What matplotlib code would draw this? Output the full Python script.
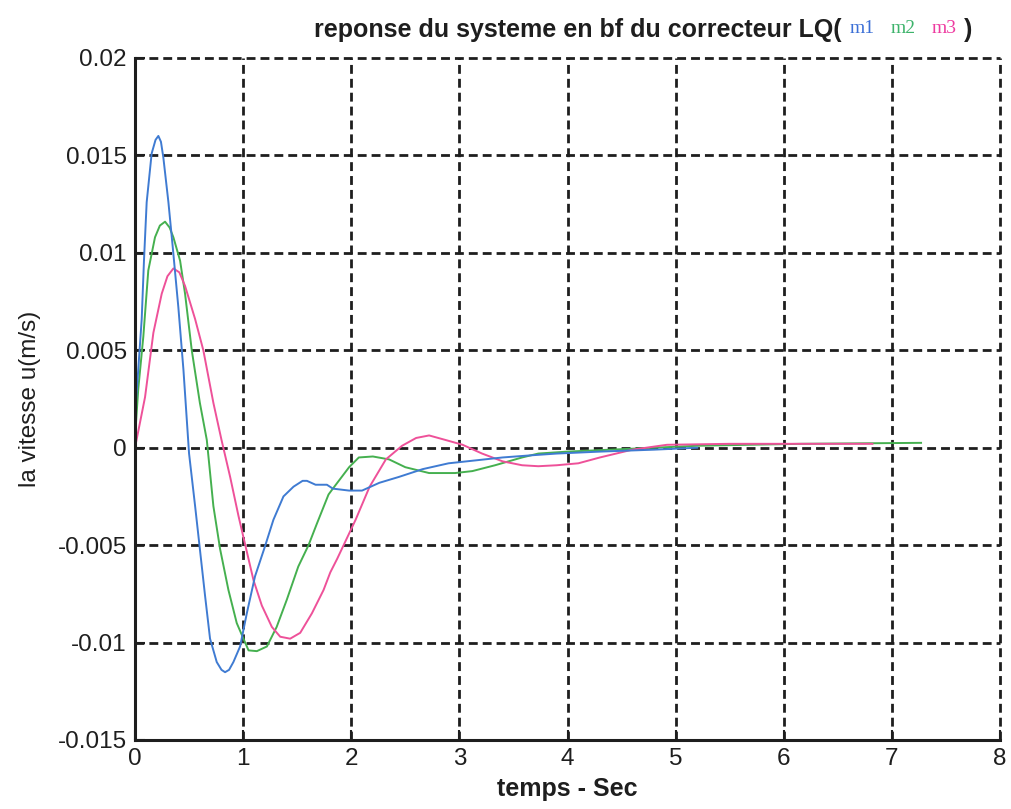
import numpy as np
import matplotlib
matplotlib.use('Agg')
import matplotlib.pyplot as plt
from matplotlib.ticker import MultipleLocator

plt.rcParams['font.family'] = ['Liberation Sans', 'DejaVu Sans']

# m1 (bleu)
t_m1 = [0, 0.03, 0.062, 0.083, 0.108, 0.154, 0.19, 0.216, 0.24, 0.262, 0.309, 0.349, 0.401, 0.448,
        0.50, 0.556, 0.60, 0.648, 0.694, 0.756, 0.80, 0.833, 0.87, 0.91, 0.972, 1.034, 1.11, 1.20,
        1.28, 1.373, 1.466, 1.55, 1.59, 1.67, 1.775, 1.83, 1.98, 2.10, 2.26, 2.44, 2.66, 2.90, 3.15,
        3.40, 3.64, 3.9, 4.3, 4.8, 5.2]
u_m1 = [0.0017, 0.0040, 0.0066, 0.0096, 0.0126, 0.0151, 0.0158, 0.0160, 0.0157, 0.0149, 0.0126,
        0.0103, 0.0072, 0.0040, -0.0003, -0.0030, -0.0052, -0.0076, -0.0098, -0.0110, -0.0114,
        -0.01152, -0.0114, -0.0110, -0.0102, -0.0085, -0.0066, -0.0051, -0.0037, -0.0025, -0.0020,
        -0.0017, -0.0017, -0.0019, -0.0019, -0.0021, -0.0022, -0.0022, -0.0018, -0.0015, -0.0011,
        -0.0008, -0.00065, -0.0005, -0.0004, -0.0003, -0.0002, -0.0001, 0.0]

# m2 (vert)
t_m2 = [0, 0.03, 0.077, 0.123, 0.185, 0.23, 0.278, 0.32, 0.355, 0.417, 0.463, 0.525, 0.60, 0.664,
        0.725, 0.787, 0.864, 0.941, 1.003, 1.05, 1.127, 1.22, 1.31, 1.404, 1.51, 1.605, 1.682, 1.79,
        1.83, 1.98, 2.07, 2.20, 2.35, 2.50, 2.72, 2.96, 3.12, 3.33, 3.58, 3.73, 4.0, 4.6, 5.2, 6.16,
        7.27]
u_m2 = [0.0005, 0.0030, 0.0057, 0.0091, 0.0108, 0.0114, 0.0116, 0.0113, 0.0108, 0.0096, 0.0079,
        0.0050, 0.0023, 0.0004, -0.0030, -0.0052, -0.0073, -0.0090, -0.0098, -0.0104, -0.01044,
        -0.0102, -0.0092, -0.0078, -0.0061, -0.0050, -0.0039, -0.0024, -0.0021, -0.0010, -0.0005,
        -0.00045, -0.0006, -0.0010, -0.0013, -0.0013, -0.0012, -0.0009, -0.0005, -0.0003, -0.0002,
        -0.00005, 0.0001, 0.0002, 0.00025]

# m3 (rose)
t_m3 = [0, 0.093, 0.17, 0.247, 0.30, 0.355, 0.41, 0.463, 0.556, 0.632, 0.725, 0.80, 0.88, 0.957,
        1.02, 1.096, 1.173, 1.266, 1.343, 1.435, 1.528, 1.636, 1.744, 1.806, 1.87, 2.04, 2.17, 2.32,
        2.47, 2.60, 2.72, 2.87, 3.03, 3.21, 3.40, 3.58, 3.73, 3.9, 4.1, 4.3, 4.6, 4.92, 5.5, 6.2, 6.82]
u_m3 = [0.0, 0.0026, 0.0059, 0.0079, 0.0088, 0.0092, 0.0090, 0.0083, 0.0066, 0.0050, 0.0023, 0.0004,
        -0.0015, -0.0035, -0.0050, -0.0068, -0.0081, -0.0092, -0.0097, -0.0098, -0.0095, -0.0085,
        -0.0073, -0.0064, -0.0057, -0.0037, -0.0020, -0.0006, 0.0001, 0.0005, 0.00063, 0.0004,
        0.00015, -0.0003, -0.0007, -0.0009, -0.00095, -0.0009, -0.0008, -0.0005, -0.0001, 0.00015,
        0.0002, 0.0002, 0.0002]

x_ticks = [0, 1, 2, 3, 4, 5, 6, 7, 8]
y_ticks = [-0.015, -0.01, -0.005, 0, 0.005, 0.01, 0.015, 0.02]
y_labels = ['-0.015', '-0.01', '-0.005', '0', '0.005', '0.01', '0.015', '0.02']

c1 = '#3f7bd2'
c2 = '#45b04f'
c3 = '#ee5199'
ink = '#1e1e1e'

W, H = 1012, 809
fig = plt.figure(figsize=(W / 100, H / 100), dpi=100)
ax = fig.add_axes([135 / W, 1 - 740 / H, 865 / W, 682 / H])

ax.plot(t_m2, u_m2, color=c2, lw=1.4)
ax.plot(t_m3, u_m3, color=c3, lw=1.4)
ax.plot(t_m1, u_m1, color=c1, lw=1.4)

ax.set_xlim(0, 8)
ax.set_ylim(-0.015, 0.02)
ax.set_xticks(x_ticks)
ax.set_xticklabels([str(i) for i in x_ticks])
ax.set_yticks(y_ticks)
ax.set_yticklabels(y_labels)

# grille pointillee, y compris aux bords haut et droit (box off)
ax.grid(True, color=ink, linestyle=(0, (3.2, 1.8)), linewidth=2)
for g in ax.get_xgridlines() + ax.get_ygridlines():
    g.set_clip_on(False)
ax.spines['top'].set_visible(False)
ax.spines['right'].set_visible(False)
for s in ['left', 'bottom']:
    ax.spines[s].set_linewidth(2.2)
    ax.spines[s].set_color(ink)
ax.tick_params(direction='in', length=7, width=1.5, labelsize=17.5, colors=ink, pad=6)

ax.set_xlabel('temps - Sec', fontsize=18, fontweight='bold', color=ink, labelpad=5)
ax.set_ylabel('la vitesse u(m/s)', fontsize=17.5, color=ink, labelpad=12)

# titre en plusieurs morceaux (couleurs des courbes)
ty = 1 - 30 / H
fig.text(314 / W, ty, 'reponse du systeme en bf du correcteur LQ(', fontsize=18,
         fontweight='bold', color=ink, va='center', ha='left')
fig.text(850 / W, ty + 0.002, 'm1', fontsize=14, color='#3b6fd6', va='center', family='Liberation Serif')
fig.text(891 / W, ty + 0.002, 'm2', fontsize=14, color='#3db36b', va='center', family='Liberation Serif')
fig.text(932 / W, ty + 0.002, 'm3', fontsize=14, color='#ee3aa0', va='center', family='Liberation Serif')
fig.text(964 / W, ty, ')', fontsize=18, fontweight='bold', color=ink, va='center')

fig.savefig('out.png', dpi=100)
